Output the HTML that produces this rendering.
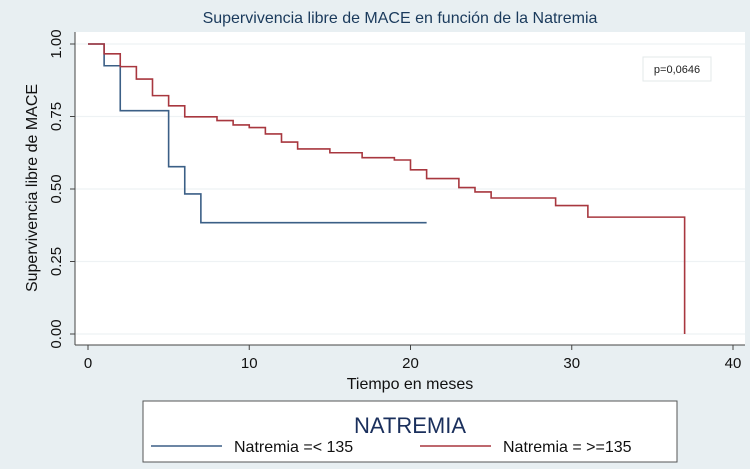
<!DOCTYPE html>
<html><head><meta charset="utf-8"><style>
html,body{margin:0;padding:0;background:#e8eff2;}
svg{display:block;font-family:"Liberation Sans",sans-serif;}
</style></head><body>
<svg id="chart" width="750" height="469" viewBox="0 0 750 469">
<rect x="0" y="0" width="750" height="469" fill="#e8eff2"/>
<text x="400" y="23" text-anchor="middle" font-size="16" fill="#1a3a5c">Supervivencia libre de MACE en función de la Natremia</text>
<rect x="75" y="32" width="670" height="313" fill="#ffffff"/>
<g id="grid"></g>
<g id="axes"></g>
<g id="series"></g>
<rect x="643" y="57" width="68" height="24" fill="#fff" stroke="#e3e8ea"/>
<text x="677" y="73" text-anchor="middle" font-size="11" fill="#222">p=0,0646</text>
<text x="410" y="389" text-anchor="middle" font-size="16" fill="#111">Tiempo en meses</text>
<text transform="translate(37,188) rotate(-90)" text-anchor="middle" font-size="16" fill="#111">Supervivencia libre de MACE</text>
<g>
<rect x="143" y="401" width="534" height="61" fill="#fff" stroke="#555"/>
<text x="410" y="433" text-anchor="middle" font-size="22" fill="#1a2f5c">NATREMIA</text>
<line x1="151" y1="446" x2="222" y2="446" stroke="#3b5f86" stroke-width="1.5"/>
<text x="234" y="452" font-size="16" fill="#111">Natremia =&lt; 135</text>
<line x1="420" y1="446" x2="491" y2="446" stroke="#a8373f" stroke-width="1.5"/>
<text x="503" y="452" font-size="16" fill="#111">Natremia = &gt;=135</text>
</g>
</svg>
<script>
const xTicks=[0,10,20,30,40];
const yTicks=[0,0.25,0.5,0.75,1];
const yTickLabels=["0.00","0.25","0.50","0.75","1.00"];
const lowTimes=[0,1,2,5,6,7,21];
const lowSurv=[1,0.925,0.77,0.577,0.483,0.384,0.384];
const highTimes=[0,1,2,3,4,5,6,8,9,10,11,12,13,15,17,19,20,21,23,24,25,29,31,37,37];
const highSurv=[1,0.966,0.922,0.879,0.822,0.787,0.749,0.736,0.721,0.712,0.69,0.662,0.638,0.625,0.608,0.6,0.566,0.536,0.505,0.49,0.469,0.443,0.403,0.403,0];
const NS="http://www.w3.org/2000/svg";
const xS=t=>88+t*16.125;
const yS=v=>334-v*290;
function mk(tag,attrs,parent){const e=document.createElementNS(NS,tag);for(const k in attrs)e.setAttribute(k,attrs[k]);parent.appendChild(e);return e;}
const grid=document.getElementById('grid'),axes=document.getElementById('axes'),series=document.getElementById('series');
yTicks.forEach((v,i)=>{
 const g=mk('line',{x1:75,x2:745,y1:yS(v),y2:yS(v),stroke:'#eef2f4','stroke-width':1.2},grid);
 
 
 const t=mk('line',{x1:70,x2:75,y1:yS(v),y2:yS(v),stroke:'#444'},axes);
 
 
 const l=mk('text',{transform:`translate(61,${yS(v)}) rotate(-90)`,'text-anchor':'middle','font-size':15,fill:'#111'},axes);
 l.textContent=yTickLabels[i];
 
 
});
xTicks.forEach(v=>{
 const t=mk('line',{x1:xS(v),x2:xS(v),y1:345,y2:350,stroke:'#444'},axes);
 
 
 const l=mk('text',{x:xS(v),y:368,'text-anchor':'middle','font-size':15,fill:'#111'},axes);
 l.textContent=String(v);
 
 
});
const ya=mk('line',{x1:75,x2:75,y1:32,y2:345,stroke:'#444'},axes);


const xa=mk('line',{x1:75,x2:745,y1:345,y2:345,stroke:'#444'},axes);


function stepPath(ts,vs){let d=`M${xS(ts[0])},${yS(vs[0])}`;for(let i=1;i<ts.length;i++){d+=` H${xS(ts[i])} V${yS(vs[i])}`;}return d;}
const pl=mk('path',{d:stepPath(lowTimes,lowSurv),fill:'none',stroke:'#3b5f86','stroke-width':1.6},series);


const ph=mk('path',{d:stepPath(highTimes,highSurv),fill:'none',stroke:'#a8373f','stroke-width':1.6},series);


</script>
</body></html>
